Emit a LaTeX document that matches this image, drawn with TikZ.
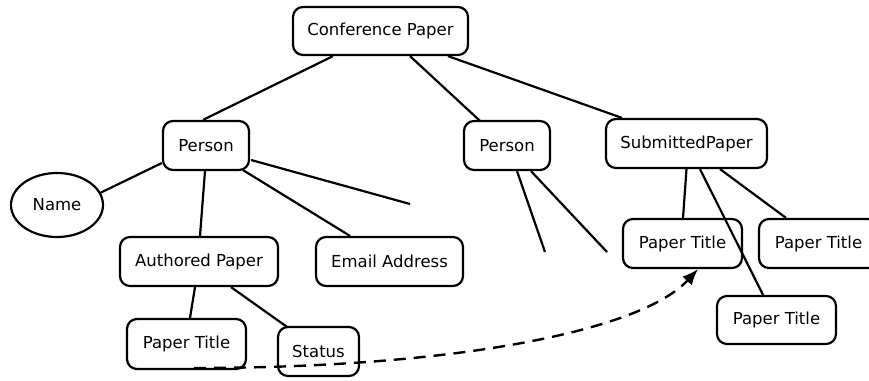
\documentclass[tikz,border=0pt]{standalone}
\usepackage{fontspec}
\setmainfont{DejaVu Sans}
\usetikzlibrary{calc,arrows.meta,shapes.geometric}
\begin{document}
\begin{tikzpicture}[x=1pt,y=-1pt,
  line width=2.2pt,
  every node/.style={font=\fontsize{16.5}{19}\selectfont, inner sep=0pt},
  rbox/.style={draw, line width=2.2pt, rounded corners=10pt, minimum height=49pt},
  oval/.style={draw, line width=2.2pt, ellipse, minimum width=92pt, minimum height=64pt},
  conn/.style={draw, line width=2.2pt},
  dashlink/.style={line width=2.4pt, dash pattern=on 12pt off 8pt, -{Latex[length=16pt,width=13pt]}}
]
\useasboundingbox (0,0) rectangle (869,380);

\node[rbox, minimum width=175pt, minimum height=48pt] (conf) at (380.5,31) {Conference Paper};
\node[rbox, minimum width=86pt] (p1) at (206,145.5) {Person};
\node[oval] (name) at (57,205) {Name};
\node[rbox, minimum width=158pt] (ap) at (199,261.5) {Authored Paper};
\node[rbox, minimum width=147pt] (email) at (389.5,261.5) {Email Address};
\node[rbox, minimum width=119pt, minimum height=50pt] (ptl) at (186.5,344) {Paper Title};
\node[rbox, minimum width=81pt] (st) at (318.5,351.5) {Status};
\node[rbox, minimum width=86pt] (p2) at (507,145.5) {Person};
\node[rbox, minimum width=161pt] (sp) at (686.5,143.5) {SubmittedPaper};
\node[rbox, minimum width=119pt] (pt1) at (682.5,243.5) {Paper Title};
\node[rbox, minimum width=119pt] (pt2) at (818.5,243.5) {Paper Title};
\node[rbox, minimum width=119pt, minimum height=48pt] (pt3) at (776.5,320) {Paper Title};

\coordinate (d1) at (410,204);
\coordinate (d2) at (545,252);
\coordinate (d3) at (607,252);
\coordinate (ds) at (194,368);

\draw[conn] ($(conf.south)+(-47.5,0)$) -- ($(p1.north)+(-3,0)$);
\draw[conn] ($(conf.south)+(29.5,0)$) -- ($(p2.north)+(-27,1)$);
\draw[conn] ($(conf.south)+(67.5,0)$) -- ($(sp.north)+(-64.5,0)$);
\draw[conn] ($(p1.west)+(0,17.5)$) -- ($(name.center)+(43,-12)$);
\draw[conn] ($(p1.south)+(-1,0)$) -- ($(ap.north)+(1,0)$);
\draw[conn] ($(p1.south)+(37,-1)$) -- ($(email.north)+(-39.5,0)$);
\draw[conn] ($(p1.east)+(1,14.5)$) -- (d1);
\draw[conn] ($(ap.south)+(-4,0)$) -- ($(ptl.north)+(3.5,0)$);
\draw[conn] ($(ap.south)+(32,0)$) -- ($(st.north)+(-31.5,1)$);
\draw[conn] ($(p2.south)+(10,0)$) -- (d2);
\draw[conn] ($(p2.south)+(24,0)$) -- (d3);
\draw[conn] (sp.south) -- ($(pt1.north)+(0.5,0)$);
\draw[conn] ($(sp.south)+(13.5,0)$) -- ($(pt3.north)+(-13.5,0)$);
\draw[conn] ($(sp.south)+(33.5,0)$) -- ($(pt2.north)+(-32.5,0)$);

\draw[dashlink] (ds) .. controls (450,368) and (640,332) .. ($(pt1.south)+(15.5,0)$);
\end{tikzpicture}
\end{document}
